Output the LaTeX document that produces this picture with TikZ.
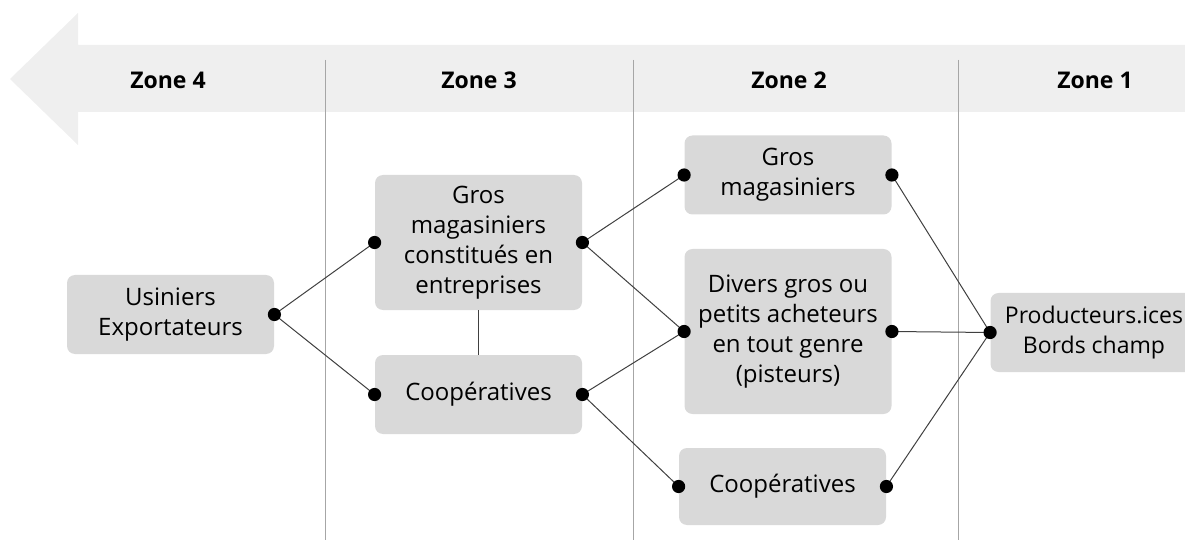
\documentclass[tikz,border=0pt]{standalone}
\usepackage{fontspec}
\setmainfont{Open Sans}
\usetikzlibrary{positioning,calc}
\definecolor{bandGray}{HTML}{EFEFEF}
\definecolor{boxGray}{HTML}{D9D9D9}
\definecolor{ruleGray}{HTML}{A6A6A6}
\definecolor{linkGray}{HTML}{404040}
\newcommand{\zonefont}{\bfseries\fontsize{11.5}{14}\selectfont}
\newcommand{\boxfont}{\fontsize{12}{15}\selectfont}

\begin{document}
\begin{tikzpicture}[x=0.5pt,y=-0.5pt,
    actor/.style={fill=boxGray,rounded corners=4pt,minimum width=103.5pt,minimum height=39.5pt,align=center,inner sep=2pt,font=\boxfont},
    link/.style={draw=linkGray,line width=0.5pt},
    zonerule/.style={draw=ruleGray,line width=0.5pt}]
  \useasboundingbox (0,0) rectangle (1185,540);
  \clip (0,0) rectangle (1185,540);
  % band arrow
  \fill[bandGray] (10,79) -- (78,13) -- (78,45) -- (1185,45) -- (1185,112) -- (78,112) -- (78,145) -- cycle;
  \foreach \x in {325,633,958}
    \draw[zonerule] (\x,60) -- (\x,540);
  \node[font=\zonefont] (zfour) at (168,80) {Zone 4};
  \node[font=\zonefont] (zthree) at (479,80) {Zone 3};
  \node[font=\zonefont] (ztwo) at (789,80) {Zone 2};
  \node[font=\zonefont] (zone) at (1095,80) {Zone 1};
  % actors
  \node[actor] (usiniers) at (170.5,314.5) {Usiniers\\Exportateurs};
  \node[actor,minimum height=67.5pt] (grosent) at (478.5,242.5) {Gros\\magasiniers\\constitués en\\entreprises};
  \node[actor] (coopthree) at (478.5,394.5) {Coopératives};
  \node[actor] (grostwo) at (788,175) {Gros\\magasiniers};
  \node[actor,minimum height=82.5pt] (divers) at (788,331.5) {Divers gros ou\\petits acheteurs\\en tout genre\\(pisteurs)};
  \node[actor,minimum height=38.5pt] (cooptwo) at (782.5,486.5) {Coopératives};
  \node[actor,font=\fontsize{11.5}{15}\selectfont] (prod) at (1094,332.5) {Producteurs.ices\\Bords champ};
  % links
  \draw[link] (usiniers.east) -- (grosent.west);
  \draw[link] (usiniers.east) -- (coopthree.west);
  \draw[link] (grosent.south) -- (coopthree.north);
  \draw[link] (grosent.east) -- (grostwo.west);
  \draw[link] (grosent.east) -- (divers.west);
  \draw[link] (coopthree.east) -- (divers.west);
  \draw[link] (coopthree.east) -- (cooptwo.west);
  \draw[link] (grostwo.east) -- (prod.west);
  \draw[link] (divers.east) -- (prod.west);
  \draw[link] (cooptwo.east) -- (prod.west);
  \foreach \n/\a in {usiniers/east,grosent/west,grosent/east,coopthree/west,coopthree/east,grostwo/west,grostwo/east,divers/west,divers/east,cooptwo/west,cooptwo/east,prod/west}
    \fill (\n.\a) circle (3.3pt);
\end{tikzpicture}
\end{document}
